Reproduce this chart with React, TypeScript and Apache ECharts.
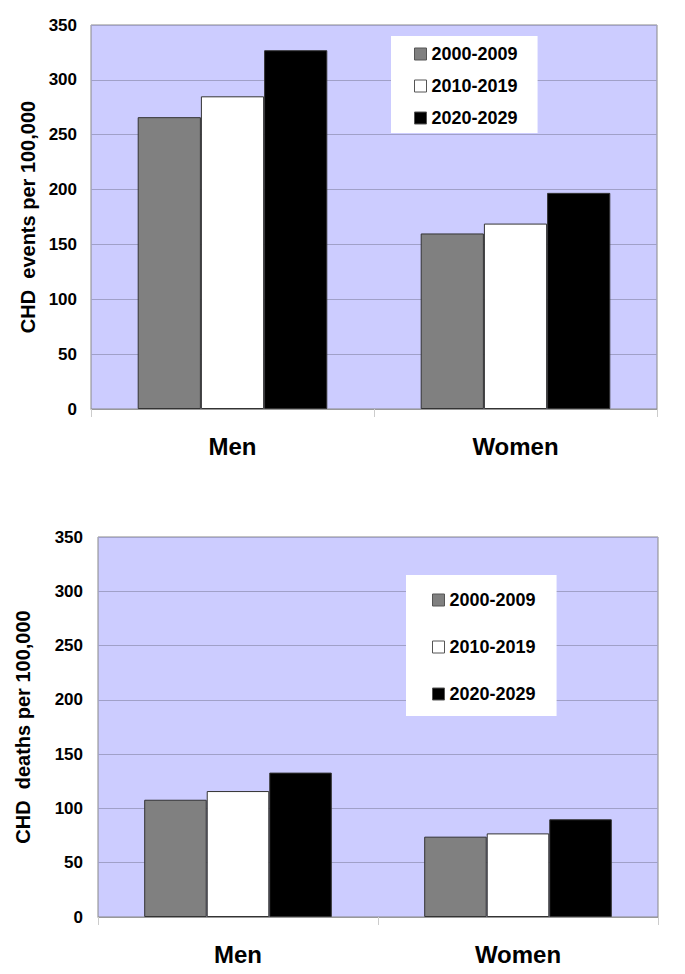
import React, { useEffect, useRef } from "react";
import * as echarts from "echarts";

const categories = ["Men", "Women"];
const periods = ["2000-2009", "2010-2019", "2020-2029"];
const events2000 = [266, 160];
const events2010 = [285, 169];
const events2020 = [327, 197];
const deaths2000 = [108, 74];
const deaths2010 = [116, 77];
const deaths2020 = [133, 90];
const yTicksMax = 350;
const yTickStep = 50;
const topAxisName = "CHD  events per 100,000";
const bottomAxisName = "CHD  deaths per 100,000";

const FONT = "'Liberation Sans', Arial, sans-serif";
const colors = ["#808080", "#ffffff", "#000000"];

export default function App() {
  const ref = useRef<HTMLDivElement>(null);
  useEffect(() => {
    if (!ref.current) return;
    const chart = echarts.init(ref.current, undefined, { renderer: "svg" });
    const grids = [
      { left: 91, top: 25, width: 566, height: 384 },
      { left: 98, top: 537, width: 560, height: 380 },
    ];
    const mkX = (i: number) => ({
      type: "category",
      gridIndex: i,
      data: categories,
      axisLine: { lineStyle: { color: "#999999", width: 1 } },
      axisTick: { show: true, length: 8, alignWithLabel: false, lineStyle: { color: "#cccccc" } },
      axisLabel: { color: "#000", fontFamily: FONT, fontWeight: "bold", fontSize: 24, margin: 25 },
    });
    const mkY = (i: number, name: string, gap: number, margin: number) => ({
      type: "value",
      gridIndex: i,
      min: 0,
      max: yTicksMax,
      interval: yTickStep,
      name,
      nameLocation: "middle",
      nameGap: gap,
      nameTextStyle: { color: "#000", fontFamily: FONT, fontWeight: "bold", fontSize: 20 },
      axisLine: { show: false },
      axisTick: { show: false },
      axisLabel: { color: "#000", fontFamily: FONT, fontWeight: "bold", fontSize: 17, margin },
      splitLine: { lineStyle: { color: "#a0a0c8", width: 1 } },
    });
    const mkSeries = (name: string, data: number[], idx: number, c: string) => ({
      type: "bar",
      name,
      data,
      xAxisIndex: idx,
      yAxisIndex: idx,
      barGap: "0%",
      barCategoryGap: "33%",
      itemStyle: { color: c, borderColor: "#333333", borderWidth: 1 },
    });
    const legendBase = {
      orient: "vertical",
      backgroundColor: "#ffffff",
      icon: "rect",
      itemWidth: 12,
      itemHeight: 12,
      data: periods,
      selectedMode: false,
      itemStyle: { borderColor: "#555555", borderWidth: 1 },
      textStyle: { color: "#000", fontFamily: FONT, fontWeight: "bold", fontSize: 18, lineHeight: 20 },
    };
    chart.setOption({
      animation: false,
      grid: grids.map((g) => ({
        ...g,
        show: true,
        backgroundColor: "#ccccff",
        borderColor: "#888888",
        borderWidth: 1,
        containLabel: false,
      })),
      legend: [
        { ...legendBase, left: 391, top: 36, itemGap: 12, padding: [8, 20, 5, 23] },
        { ...legendBase, left: 406, top: 575, itemGap: 27, padding: [15, 21, 12, 26] },
      ],
      xAxis: [mkX(0), mkX(1)],
      yAxis: [mkY(0, topAxisName, 53, 14), mkY(1, bottomAxisName, 65, 15)],
      series: [
        mkSeries(periods[0], events2000, 0, colors[0]),
        mkSeries(periods[1], events2010, 0, colors[1]),
        mkSeries(periods[2], events2020, 0, colors[2]),
        mkSeries(periods[0], deaths2000, 1, colors[0]),
        mkSeries(periods[1], deaths2010, 1, colors[1]),
        mkSeries(periods[2], deaths2020, 1, colors[2]),
      ],
    });
    return () => chart.dispose();
  }, []);
  return <div ref={ref} style={{ width: 685, height: 974, margin: -8 }} />;
}
